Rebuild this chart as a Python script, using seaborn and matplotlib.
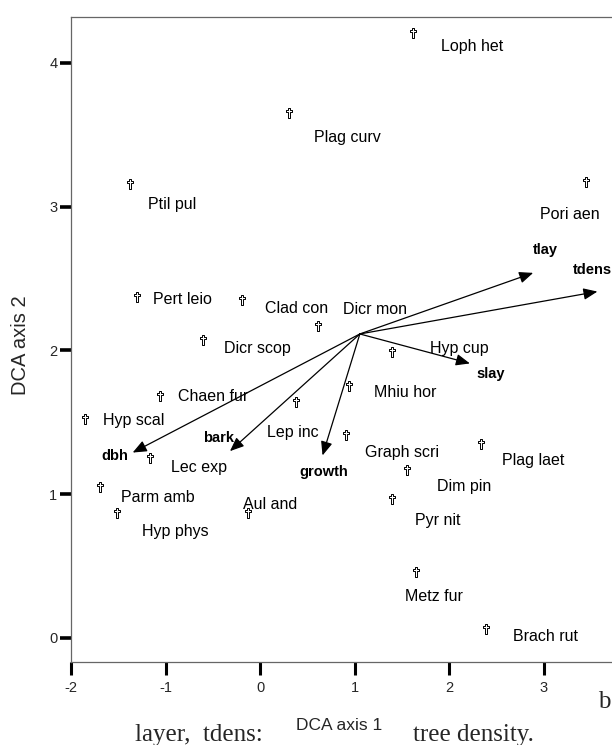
import matplotlib
matplotlib.use("Agg")
import matplotlib.pyplot as plt
from matplotlib.path import Path
from matplotlib import font_manager
import pandas as pd
import seaborn as sns

# Species scores on the first two DCA axes
species = ["Loph het", "Plag curv", "Ptil pul", "Pori aen", "Pert leio", "Clad con",
           "Dicr mon", "Dicr scop", "Hyp cup", "Chaen fur", "Hyp scal", "Mhiu hor",
           "Lep inc", "Lec exp", "Graph scri", "Plag laet", "Dim pin", "Parm amb",
           "Hyp phys", "Aul and", "Pyr nit", "Metz fur", "Brach rut"]
axis1 = [1.62, 0.31, -1.38, 3.45, -1.30, -0.19, 0.61, -0.61, 1.40, -1.06, -1.85, 0.94,
         0.38, -1.17, 0.91, 2.34, 1.55, -1.70, -1.52, -0.13, 1.40, 1.65, 2.39]
axis2 = [4.21, 3.65, 3.16, 3.17, 2.37, 2.35, 2.17, 2.07, 1.99, 1.68, 1.52, 1.75,
         1.64, 1.25, 1.41, 1.35, 1.17, 1.05, 0.87, 0.87, 0.97, 0.46, 0.06]

# Environmental vectors (biplot arrows) drawn from the common origin
variables = ["tlay", "tdens", "slay", "dbh", "bark", "growth"]
var_axis1 = [2.89, 3.57, 2.22, -1.35, -0.32, 0.66]
var_axis2 = [2.54, 2.41, 1.91, 1.29, 1.30, 1.27]
origin_axis1 = 1.055
origin_axis2 = 2.115

x_ticks = [-2, -1, 0, 1, 2, 3]
y_ticks = [0, 1, 2, 3, 4]

# Label placement (pixels from the point, y upwards)
species_label_offset = [(28, -14), (25, -24), (18, -21), (-46, -32), (16, -2), (23, -8),
                        (25, 17), (21, -8), (38, 3), (18, 0), (18, -1), (25, -6),
                        (-29, -30), (21, -9), (19, -17), (21, -17), (30, -17), (21, -10),
                        (25, -19), (-5, 8), (23, -22), (-11, -25), (27, -7)]
variable_label_offset = [(0, 23), (-25, 22), (7, -11), (-31, -3), (-27, 13), (-23, -17)]

sns.set_style("ticks")
available = {f.name for f in font_manager.fontManager.ttflist}
if "Liberation Sans Narrow" in available:
    SANS, label_size, bold_size = "Liberation Sans Narrow", 13.0, 12.5
else:
    SANS, label_size, bold_size = "Liberation Sans", 11.5, 10.5
plt.rcParams["font.family"] = [SANS, "DejaVu Sans"]

df = pd.DataFrame({"species": species, "DCA axis 1": axis1, "DCA axis 2": axis2})

# Outlined dagger-shaped marker
cross = Path([(-0.11, 0.5), (0.11, 0.5), (0.11, 0.30), (0.36, 0.30), (0.36, 0.10),
              (0.11, 0.10), (0.11, -0.5), (-0.11, -0.5), (-0.11, 0.10), (-0.36, 0.10),
              (-0.36, 0.30), (-0.11, 0.30), (-0.11, 0.5)],
             [Path.MOVETO] + [Path.LINETO] * 11 + [Path.CLOSEPOLY])

W, H = 612, 745
fig = plt.figure(figsize=(W / 100, H / 100), dpi=100)
fig.patch.set_facecolor("white")
ax = fig.add_axes([71.3 / W, 83 / H, (638 - 71.3) / W, (728 - 83) / H])

sns.scatterplot(data=df, x="DCA axis 1", y="DCA axis 2", ax=ax, marker=cross, s=48,
                color="white", edgecolor="black", linewidth=0.7, legend=False, zorder=3)

for name, x, y, (dx, dy) in zip(species, axis1, axis2, species_label_offset):
    ax.annotate(name, (x, y), xytext=(dx, dy), textcoords="offset pixels",
                ha="left", va="center", fontsize=label_size, color="black")

for name, x, y, (dx, dy) in zip(variables, var_axis1, var_axis2, variable_label_offset):
    ax.annotate("", xy=(x, y), xytext=(origin_axis1, origin_axis2),
                arrowprops=dict(arrowstyle="-|>,head_length=0.6,head_width=0.25",
                                color="black", lw=0.9, mutation_scale=14,
                                shrinkA=0, shrinkB=0), zorder=2)
    ax.annotate(name, (x, y), xytext=(dx, dy), textcoords="offset pixels",
                ha="left", va="center", fontsize=bold_size, fontweight="bold",
                color="black")

ax.set_xlim(-2.0, 4.0)
ax.set_ylim(-0.167, 4.32)
ax.set_xticks(x_ticks)
ax.set_yticks(y_ticks)
ax.set_xticklabels([str(t) for t in x_ticks])
ax.set_yticklabels([str(t) for t in y_ticks])
ax.tick_params(axis="x", direction="out", length=9.5, width=2.2, color="black",
               labelsize=10.5, pad=4)
ax.tick_params(axis="y", direction="out", length=8, width=2.6, color="black",
               labelsize=10.5, pad=2)
for side in ["left", "bottom", "top", "right"]:
    ax.spines[side].set_visible(True)
    ax.spines[side].set_color("#666666")
    ax.spines[side].set_linewidth(0.9)

ax.set_xlabel("DCA axis 1", fontsize=12.5, va="center")
ax.xaxis.set_label_coords(0.473, -0.098)
ax.set_ylabel("DCA axis 2", fontsize=14.5, va="center", ha="center")
ax.yaxis.set_label_coords(-0.0905, 0.491)

# Surrounding caption text
serif = ["Liberation Serif", "DejaVu Serif"]
fig.text(135 / W, 4 / H, "layer,  tdens:", family=serif, fontsize=18,
         ha="left", va="baseline")
fig.text(413 / W, 4 / H, "tree density.", family=serif, fontsize=18,
         ha="left", va="baseline")
fig.text(598 / W, 37 / H, "b", family=serif, fontsize=18, ha="left", va="baseline")

fig.savefig("out.png", dpi=100, facecolor="white")
